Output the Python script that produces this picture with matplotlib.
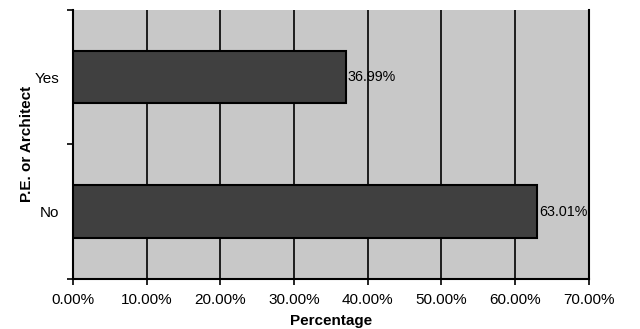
import numpy as np
import matplotlib.pyplot as plt
from matplotlib.ticker import FuncFormatter

categories = ["No", "Yes"]
values = [63.01, 36.99]
labels = ["63.01%", "36.99%"]
xticks = [0, 10, 20, 30, 40, 50, 60, 70]

plt.rcParams['font.family'] = ['Liberation Sans', 'DejaVu Sans']

fig = plt.figure(figsize=(6.4, 3.29), dpi=100)
ax = fig.add_axes([0.114, 0.152, 0.806, 0.818])
ax.set_facecolor('#c8c8c8')

y = np.arange(len(categories))
ax.barh(y, values, height=0.39, color='#404040', edgecolor='black',
        linewidth=1.5, zorder=3)
for yi, v, lab in zip(y, values, labels):
    ax.text(v + 0.3, yi, lab, va='center', ha='left', fontsize=10.3, zorder=4)

ax.set_xlim(0, 70)
ax.set_ylim(-0.5, 1.5)
ax.set_xticks(xticks)
ax.xaxis.set_major_formatter(FuncFormatter(lambda v, p: '%.2f%%' % v))
ax.set_yticks([-0.5, 0.5, 1.5])
ax.set_yticklabels([])
ax.set_yticks(y, minor=True)
ax.set_yticklabels(categories, minor=True)
ax.tick_params(axis='y', which='minor', length=0, labelsize=11, pad=10)
ax.tick_params(axis='y', which='major', length=4, width=1.2, direction='out')
ax.tick_params(axis='x', length=4, width=1.2, labelsize=11, pad=6)
ax.grid(axis='x', color='black', linewidth=1.2, zorder=1)

ax.spines['top'].set_visible(False)
for s in ['left', 'bottom', 'right']:
    ax.spines[s].set_linewidth(1.5)

ax.set_xlabel('Percentage', fontsize=11, fontweight='bold', labelpad=5)
ax.set_ylabel('P.E. or Architect', fontsize=11, fontweight='bold', labelpad=0)

plt.savefig('out.png', dpi=100)
